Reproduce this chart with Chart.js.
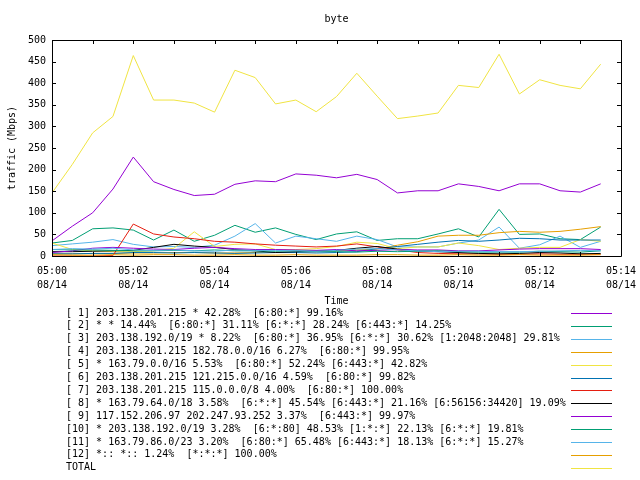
<!DOCTYPE html>
<html>
<head>
<meta charset="utf-8">
<script src="https://cdn.jsdelivr.net/npm/chart.js@4.4.0/dist/chart.umd.min.js"></script>
<style>
  html, body { margin: 0; padding: 0; background: #fff; }
  canvas { display: block; }
</style>
</head>
<body>
<canvas id="byteChart" width="640" height="480"></canvas>
<script>
// time axis in minutes after 05:00 (30 second samples)
const minutes = [0, 0.5, 1, 1.5, 2, 2.5, 3, 3.5, 4, 4.5, 5, 5.5, 6, 6.5,
  7, 7.5, 8, 8.5, 9, 9.5, 10, 10.5, 11, 11.5, 12, 12.5, 13, 13.5];
const xTickLabels = ["05:00", "05:02", "05:04", "05:06", "05:08", "05:10", "05:12", "05:14"];
const xTickDate = "08/14";
const yTicks = [0, 50, 100, 150, 200, 250, 300, 350, 400, 450, 500];

const seriesNames = [
  "[ 1] 203.138.201.215 * 42.28%  [6:80:*] 99.16%",
  "[ 2] * * 14.44%  [6:80:*] 31.11% [6:*:*] 28.24% [6:443:*] 14.25%",
  "[ 3] 203.138.192.0/19 * 8.22%  [6:80:*] 36.95% [6:*:*] 30.62% [1:2048:2048] 29.81%",
  "[ 4] 203.138.201.215 182.78.0.0/16 6.27%  [6:80:*] 99.95%",
  "[ 5] * 163.79.0.0/16 5.53%  [6:80:*] 52.24% [6:443:*] 42.82%",
  "[ 6] 203.138.201.215 121.215.0.0/16 4.59%  [6:80:*] 99.82%",
  "[ 7] 203.138.201.215 115.0.0.0/8 4.00%  [6:80:*] 100.00%",
  "[ 8] * 163.79.64.0/18 3.58%  [6:*:*] 45.54% [6:443:*] 21.16% [6:56156:34420] 19.09%",
  "[ 9] 117.152.206.97 202.247.93.252 3.37%  [6:443:*] 99.97%",
  "[10] * 203.138.192.0/19 3.28%  [6:*:80] 48.53% [1:*:*] 22.13% [6:*:*] 19.81%",
  "[11] * 163.79.86.0/23 3.20%  [6:80:*] 65.48% [6:443:*] 18.13% [6:*:*] 15.27%",
  "[12] *:: *:: 1.24%  [*:*:*] 100.00%",
  "TOTAL"
];

// traffic (Mbps) per series
const s1 = [35, 69, 100, 155, 229, 172, 154, 140, 143, 166, 174, 172, 190, 187, 181, 189, 177, 146, 151, 151, 167, 161, 151, 167, 167, 151, 148, 167];
const s2 = [30, 36, 63, 65, 60, 37, 60, 34, 48, 71, 55, 65, 50, 38, 51, 56, 36, 40, 40, 51, 63, 44, 108, 50, 51, 40, 38, 67];
const s3 = [24, 28, 32, 38, 27, 21, 22, 20, 25, 46, 75, 30, 46, 40, 34, 46, 38, 21, 21, 21, 30, 37, 67, 18, 26, 46, 20, 34];
const s4 = [5, 5, 6, 6, 7, 7, 8, 8, 7, 7, 8, 8, 8, 10, 12, 14, 16, 25, 33, 46, 48, 48, 54, 57, 55, 57, 62, 68];
const s5 = [30, 15, 12, 10, 10, 12, 18, 56, 22, 27, 28, 15, 15, 17, 22, 32, 29, 17, 21, 21, 30, 24, 15, 18, 20, 20, 38, 34];
const s6 = [5, 5, 6, 6, 8, 8, 7, 8, 7, 6, 7, 8, 8, 7, 8, 10, 17, 22, 27, 32, 36, 34, 37, 41, 40, 37, 37, 37];
const s7 = [0, 0, 0, 1, 74, 51, 44, 40, 34, 32, 28, 25, 23, 21, 23, 28, 21, 14, 8, 6, 5, 5, 4, 4, 5, 4, 4, 4];
const s8 = [10, 10, 11, 12, 13, 20, 27, 23, 20, 15, 12, 8, 10, 12, 13, 18, 22, 16, 12, 10, 8, 6, 5, 6, 8, 7, 5, 6];
const s9 = [8, 12, 18, 20, 18, 16, 15, 18, 20, 17, 15, 15, 14, 13, 15, 12, 13, 15, 14, 14, 12, 12, 14, 16, 17, 17, 17, 15];
const s10 = [15, 14, 14, 13, 12, 12, 13, 12, 14, 12, 12, 11, 12, 10, 10, 9, 11, 10, 11, 12, 10, 9, 9, 9, 11, 10, 9, 12];
const s11 = [15, 17, 16, 18, 14, 13, 14, 12, 11, 14, 13, 13, 12, 11, 13, 16, 17, 14, 12, 10, 11, 11, 10, 10, 11, 12, 13, 12];
const s12 = [3, 2, 2, 3, 2, 3, 3, 2, 2, 3, 2, 2, 3, 2, 2, 2, 3, 3, 2, 2, 3, 2, 2, 3, 2, 2, 2, 3];
const total = [146, 212, 285, 323, 464, 361, 361, 354, 333, 430, 413, 352, 361, 334, 369, 423, 370, 318, 324, 331, 395, 390, 467, 375, 408, 395, 387, 444];

const seriesValues = [s1, s2, s3, s4, s5, s6, s7, s8, s9, s10, s11, s12, total];

// gnuplot default line colours
const palette = ["#9400d3", "#009e73", "#56b4e9", "#e69f00", "#f0e442", "#0072b2", "#e51e10", "#000000"];

const FONT = "10px 'DejaVu Sans Mono', 'Liberation Mono', monospace";

const datasets = seriesValues.map((vals, i) => ({
  label: seriesNames[i],
  data: vals.map((v, j) => ({ x: minutes[j], y: v })),
  borderColor: palette[i % palette.length],
  backgroundColor: palette[i % palette.length],
  borderWidth: 1,
  pointRadius: 0,
  tension: 0,
  fill: false,
  order: seriesValues.length - i, // later series on top, like gnuplot
}));

// axes frame, inward ticks, titles and the key below the plot
const gnuplotDecor = {
  id: "gnuplotDecor",
  afterDraw(chart) {
    const ctx = chart.ctx;
    const area = chart.chartArea;
    const xs = chart.scales.x;
    const ys = chart.scales.y;
    const tick = 4;

    ctx.save();
    ctx.strokeStyle = "#000";
    ctx.lineWidth = 1;
    ctx.beginPath();
    ctx.rect(Math.round(area.left) + 0.5, Math.round(area.top) + 0.5,
      Math.round(area.right - area.left), Math.round(area.bottom - area.top));
    ctx.stroke();

    ctx.beginPath();
    for (let m = 0; m <= 14; m++) {
      const px = Math.round(xs.getPixelForValue(m)) + 0.5;
      ctx.moveTo(px, area.bottom);
      ctx.lineTo(px, area.bottom - tick);
      ctx.moveTo(px, area.top);
      ctx.lineTo(px, area.top + tick);
    }
    yTicks.forEach((v) => {
      const py = Math.round(ys.getPixelForValue(v)) + 0.5;
      ctx.moveTo(area.left, py);
      ctx.lineTo(area.left + tick, py);
      ctx.moveTo(area.right, py);
      ctx.lineTo(area.right - tick, py);
    });
    ctx.stroke();

    ctx.fillStyle = "#000";
    ctx.font = FONT;
    ctx.textAlign = "center";
    ctx.textBaseline = "middle";
    const midX = (area.left + area.right) / 2;
    ctx.fillText("byte", midX, 19);
    ctx.fillText("Time", midX, 301);

    ctx.save();
    ctx.translate(12, (area.top + area.bottom) / 2);
    ctx.rotate(-Math.PI / 2);
    ctx.fillText("traffic (Mbps)", 0, 0);
    ctx.restore();

    // key
    chart.data.datasets.forEach((ds, i) => {
      const y = 313 + i * 12.9;
      ctx.textAlign = "left";
      ctx.fillStyle = "#000";
      ctx.fillText(ds.label, 66, y);
      ctx.strokeStyle = ds.borderColor;
      ctx.beginPath();
      ctx.moveTo(571, Math.round(y) + 0.5);
      ctx.lineTo(612, Math.round(y) + 0.5);
      ctx.stroke();
    });
    ctx.restore();
  },
};

new Chart(document.getElementById("byteChart"), {
  type: "line",
  data: { datasets: datasets },
  options: {
    responsive: false,
    animation: false,
    devicePixelRatio: 1,
    layout: { padding: { top: 40, right: 19, left: 0, bottom: 0 } },
    plugins: {
      legend: { display: false },
      tooltip: { enabled: false },
      title: { display: false },
    },
    scales: {
      x: {
        type: "linear",
        min: 0,
        max: 14,
        afterFit: (s) => {
          s.height = 224;
          s.paddingLeft = 0;
          s.paddingRight = 0;
        },
        grid: { display: false, drawTicks: false },
        border: { display: false },
        afterBuildTicks: (s) => {
          s.ticks = xTickLabels.map((_, i) => ({ value: i * 2 }));
        },
        ticks: {
          color: "#000",
          font: { family: "'DejaVu Sans Mono', monospace", size: 10, lineHeight: 1.45 },
          padding: 8,
          maxRotation: 0,
          autoSkip: false,
          callback: (v) => [xTickLabels[Math.round(v / 2)], xTickDate],
        },
      },
      y: {
        min: 0,
        max: 500,
        afterFit: (s) => {
          s.width = 52;
          s.paddingTop = 0;
          s.paddingBottom = 0;
        },
        grid: { display: false, drawTicks: false },
        border: { display: false },
        afterBuildTicks: (s) => {
          s.ticks = yTicks.map((v) => ({ value: v }));
        },
        ticks: {
          color: "#000",
          font: { family: "'DejaVu Sans Mono', monospace", size: 10 },
          padding: 6,
        },
      },
    },
  },
  plugins: [gnuplotDecor],
});
</script>
</body>
</html>
